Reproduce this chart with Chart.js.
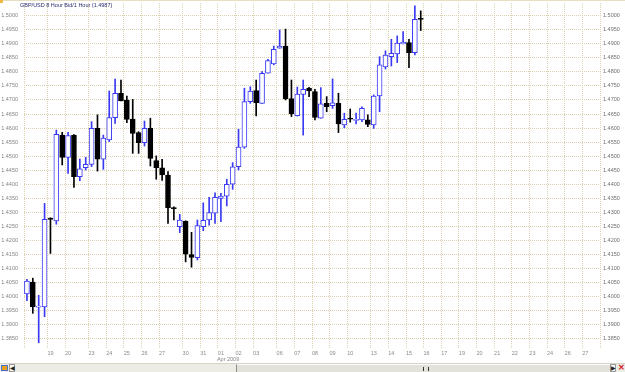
<!DOCTYPE html>
<html>
<head>
<meta charset="utf-8">
<script src="https://cdn.jsdelivr.net/npm/chart.js@4.4.1/dist/chart.umd.min.js"></script>
<style>
    html, body { margin: 0; padding: 0; background: #fff; }
    #wrap { position: absolute; left: 0; top: 0; width: 625px; height: 372px; overflow: hidden; background: #fff; }
    #topline { position: absolute; left: 0; top: 0; width: 625px; height: 1px; background: #e6ddc3; }
    #corner { position: absolute; left: 0; top: 0; width: 3px; height: 3px; background: #f0b840; }
    .canvas-container { position: absolute; left: 0; top: 0; width: 625px; height: 363px; }
    #scroll { position: absolute; left: 0; top: 363px; width: 625px; height: 9px; background: #ecebe4; border-top: 1px solid #d6d3c8; box-sizing: border-box; }
    #scroll .icon { position: absolute; left: 1px; top: 1px; width: 7px; height: 6px; background: #e8a020; border: 1px solid #4a70c8; box-sizing: border-box; }
    #scroll .btn { position: absolute; top: 0; width: 6px; height: 8px; background: #f4f4f0; border: 1px solid #9a9a9a; box-sizing: border-box; font: 6px Arial, sans-serif; line-height: 6px; text-align: center; color: #222; }
    #scroll .thumb { position: absolute; left: 236px; top: 0; width: 374px; height: 8px; background: #e2e1da; border-left: 1px solid #8c8c8c; border-top: 1px solid #fdfdfd; box-sizing: border-box; }
    #scroll .grip { position: absolute; left: 186px; top: 2px; width: 4px; height: 4px; border-left: 1px solid #333; border-right: 1px solid #333; }
    #scroll .x { position: absolute; left: 617px; top: 0; width: 8px; height: 8px; color: #d02020; font: bold 8px Arial, sans-serif; line-height: 8px; text-align: center; }
</style>
</head>
<body>
<div id="wrap">
    <div class="canvas-container"><canvas id="candle_graph"></canvas></div>
    <div id="topline"></div>
    <div id="corner"></div>
    <div id="scroll">
        <div class="icon"></div>
        <div class="btn" style="left:9px">&#9664;</div>
        <div class="thumb"><div class="grip"></div></div>
        <div class="btn" style="left:610px">&#9654;</div>
        <div class="x">&#10005;</div>
    </div>
</div>
<script>
// GBP/USD 8時間足 (Mar 2009 - Apr 2009)
const chartTitle = 'GBP/USD 8 Hour Bid/1 Hour (1.4987)';
const monthLabel = 'Apr 2009';

// bars before the first labelled day
const leadBars = 4;
const dayLabels = ['19', '20', '23', '24', '25', '26', '27', '30', '31', '01', '02', '03', '06', '07', '08', '09', '10',
    '13', '14', '15', '16', '17', '19', '20', '21', '22', '23', '24', '26', '27'];
const dayBars = [3, 4, 3, 3, 3, 3, 4, 3, 3, 3, 3, 4, 3, 3, 3, 3, 4, 3, 3, 3, 3, 3, 3, 3, 3, 3, 3, 3, 3, 3];

const opens = [1.4010, 1.4052, 1.3963, 1.3964, 1.4280, 1.4270, 1.4575, 1.4496, 1.4575, 1.4427,
    1.4459, 1.4471, 1.4599, 1.4489, 1.4558, 1.4637, 1.4724, 1.4700, 1.4632, 1.4584,
    1.4548, 1.4599, 1.4484, 1.4459, 1.4433, 1.4317, 1.4249, 1.4269, 1.4150, 1.4139,
    1.4249, 1.4273, 1.4297, 1.4350, 1.4358, 1.4400, 1.4463, 1.4532, 1.4694, 1.4733,
    1.4688, 1.4795, 1.4828, 1.4884, 1.4892, 1.4705, 1.4644, 1.4720, 1.4742, 1.4730,
    1.4635, 1.4688, 1.4680, 1.4688, 1.4611, 1.4633, 1.4627, 1.4629, 1.4629, 1.4611,
    1.4714, 1.4818, 1.4854, 1.4864, 1.4899, 1.4904, 1.4868, 1.4989];
const highs = [1.4062, 1.4066, 1.4005, 1.4332, 1.4281, 1.4593, 1.4585, 1.4585, 1.4577, 1.4490,
    1.4496, 1.4623, 1.4647, 1.4575, 1.4732, 1.4774, 1.4771, 1.4714, 1.4702, 1.4587,
    1.4625, 1.4635, 1.4501, 1.4489, 1.4445, 1.4320, 1.4293, 1.4270, 1.4229, 1.4273,
    1.4334, 1.4354, 1.4370, 1.4368, 1.4418, 1.4477, 1.4596, 1.4742, 1.4747, 1.4771,
    1.4801, 1.4845, 1.4892, 1.4949, 1.4952, 1.4771, 1.4746, 1.4771, 1.4745, 1.4738,
    1.4744, 1.4712, 1.4775, 1.4724, 1.4653, 1.4668, 1.4653, 1.4676, 1.4647, 1.4718,
    1.4854, 1.4875, 1.4916, 1.4928, 1.4943, 1.4916, 1.5035, 1.5017];
const lows = [1.3986, 1.3941, 1.3836, 1.3929, 1.4154, 1.4258, 1.4469, 1.4439, 1.4389, 1.4413,
    1.4451, 1.4463, 1.4447, 1.4453, 1.4552, 1.4617, 1.4697, 1.4619, 1.4510, 1.4510,
    1.4536, 1.4465, 1.4418, 1.4414, 1.4261, 1.4273, 1.4228, 1.4124, 1.4105, 1.4131,
    1.4235, 1.4255, 1.4261, 1.4267, 1.4323, 1.4382, 1.4451, 1.4528, 1.4688, 1.4643,
    1.4688, 1.4795, 1.4825, 1.4884, 1.4700, 1.4641, 1.4643, 1.4575, 1.4712, 1.4629,
    1.4635, 1.4658, 1.4670, 1.4584, 1.4601, 1.4621, 1.4615, 1.4623, 1.4605, 1.4599,
    1.4658, 1.4810, 1.4821, 1.4833, 1.4899, 1.4815, 1.4860, 1.4947];
const closes = [1.4056, 1.3964, 1.3966, 1.4275, 1.4275, 1.4578, 1.4496, 1.4573, 1.4427, 1.4455,
    1.4471, 1.4599, 1.4489, 1.4564, 1.4637, 1.4724, 1.4697, 1.4631, 1.4581, 1.4548,
    1.4599, 1.4492, 1.4459, 1.4433, 1.4317, 1.4313, 1.4273, 1.4151, 1.4140, 1.4253,
    1.4272, 1.4299, 1.4354, 1.4358, 1.4400, 1.4462, 1.4532, 1.4694, 1.4732, 1.4690,
    1.4795, 1.4840, 1.4880, 1.4892, 1.4704, 1.4650, 1.4721, 1.4738, 1.4732, 1.4638,
    1.4686, 1.4676, 1.4690, 1.4615, 1.4631, 1.4632, 1.4631, 1.4670, 1.4613, 1.4714,
    1.4825, 1.4860, 1.4866, 1.4902, 1.4906, 1.4868, 1.4987, 1.4987];

const yMin = 1.3814;
const yMax = 1.5045;
const yStep = 0.005;

const upColor = '#3a3af4';
const downColor = '#000000';
const gridColor = '#dcd2b2';
const labelFont = { family: '"Liberation Sans", Arial, sans-serif', size: 5.5 };

// one category per 8 hour bar
var catLabels = [];
for (let i = 0; i < leadBars; i++) catLabels.push('');
dayLabels.forEach(function (d, k) {
    catLabels.push(d);
    for (let j = 1; j < dayBars[k]; j++) catLabels.push('');
});

var bodies = catLabels.map(function (l, i) {
    return i < opens.length ? [opens[i], closes[i]] : null;
});
var wicks = catLabels.map(function (l, i) {
    return i < opens.length ? [lows[i], highs[i]] : null;
});

function isUp(i) {
    return closes[i] >= opens[i];
}

const extraText = {
    id: 'extraText',
    afterDraw(chart) {
        const c = chart.ctx;
        const xs = chart.scales.x;
        c.save();
        c.font = '5.5px "Liberation Sans", Arial, sans-serif';
        c.textBaseline = 'middle';
        c.textAlign = 'left';
        c.fillStyle = '#2c2c74';
        c.fillText(chartTitle, 20, 5.5);
        c.fillStyle = '#858585';
        c.fillText(monthLabel, xs.getPixelForValue(catLabels.indexOf('01')) - 4, 359.5);
        c.restore();
    }
};

const candleGraph = document.getElementById('candle_graph');
new Chart(candleGraph, {
    type: 'bar',
    data: {
        labels: catLabels,
        datasets: [{
            label: 'body',
            data: bodies,
            grouped: false,
            barThickness: 5,
            minBarLength: 1,
            borderWidth: 1,
            borderSkipped: false,
            backgroundColor: function (ctx) { return isUp(ctx.dataIndex) ? '#ffffff' : downColor; },
            borderColor: function (ctx) { return isUp(ctx.dataIndex) ? upColor : downColor; },
            yAxisID: 'y'
        }, {
            label: 'wick',
            data: wicks,
            grouped: false,
            barThickness: 1,
            borderWidth: 0,
            backgroundColor: function (ctx) { return isUp(ctx.dataIndex) ? upColor : downColor; },
            yAxisID: 'y'
        }]
    },
    options: {
        responsive: true,
        maintainAspectRatio: false,
        animation: false,
        layout: { padding: 0 },
        plugins: {
            legend: { display: false },
            tooltip: { enabled: false },
            title: { display: false }
        },
        scales: {
            x: {
                offset: true,
                grid: {
                    offset: true,
                    drawTicks: false,
                    color: function (ctx) {
                        if (ctx.index === undefined || ctx.index === 0 || catLabels[ctx.index]) return gridColor;
                        return 'rgba(0,0,0,0)';
                    }
                },
                border: { display: false, dash: [1, 1] },
                ticks: {
                    autoSkip: false,
                    maxRotation: 0,
                    minRotation: 0,
                    padding: 1,
                    color: '#8a8a8a',
                    font: labelFont
                },
                afterFit: function (scale) {
                    scale.height = 14;
                    scale.paddingLeft = 0;
                    scale.paddingRight = 0;
                }
            },
            y: {
                position: 'left',
                min: yMin,
                max: yMax,
                grid: { color: gridColor, drawTicks: false },
                border: { display: false, dash: [1, 1] },
                ticks: {
                    stepSize: yStep,
                    includeBounds: false,
                    maxTicksLimit: 40,
                    padding: 6,
                    color: '#858585',
                    font: labelFont,
                    callback: function (v) { return v.toFixed(4); }
                },
                afterFit: function (scale) {
                    scale.width = 24;
                    scale.paddingTop = 3;
                    scale.paddingBottom = 0;
                }
            },
            y2: {
                position: 'right',
                min: yMin,
                max: yMax,
                grid: { display: false, drawTicks: false },
                border: { display: false },
                ticks: {
                    stepSize: yStep,
                    includeBounds: false,
                    maxTicksLimit: 40,
                    padding: 3,
                    color: '#6e6e6e',
                    font: labelFont,
                    callback: function (v) { return v.toFixed(4); }
                },
                afterFit: function (scale) {
                    scale.width = 25;
                    scale.paddingTop = 3;
                    scale.paddingBottom = 0;
                }
            }
        }
    },
    plugins: [extraText]
});
</script>
</body>
</html>
